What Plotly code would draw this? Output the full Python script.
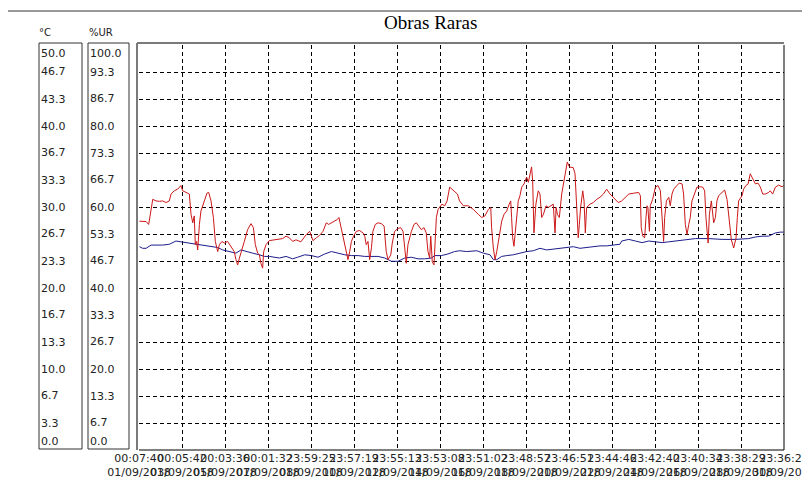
import plotly.graph_objects as go

# ---------------- data (days since 01/09/2018 00:07:40) ----------------
ur_day = [0.02,0.33,0.45,0.56,0.64,0.79,0.95,1.10,1.26,1.41,1.49,1.64,1.80,1.95,2.03,2.19,2.34,2.42,2.50,2.57,2.62,2.68,2.73,2.81,2.88,3.04,3.16,3.24,3.35,3.46,3.55,3.66,3.74,3.86,3.97,4.12,4.28,4.43,4.51,4.59,4.67,4.79,4.90,5.05,5.21,5.32,5.41,5.52,5.60,5.67,5.75,5.80,5.91,6.06,6.37,6.68,6.84,6.99,7.15,7.30,7.53,
          7.78,7.94,8.02,8.09,8.25,8.40,8.56,8.71,8.82,8.95,9.10,9.22,9.30,9.38,9.49,9.57,9.64,9.72,9.80,9.88,9.98,10.11,10.26,10.42,10.50,10.57,10.65,10.73,10.81,10.88,10.99,11.12,11.27,11.40,11.50,11.58,11.71,11.78,11.89,12.05,12.17,12.28,12.36,12.43,12.51,12.67,12.79,12.90,13.01,13.13,13.26,13.36,13.44,13.52,13.57,13.64,13.72,13.78,13.83,13.91,13.98,14.09,14.22,14.33,14.45,14.56,14.68,14.81,14.91,
          15.09,15.32,15.55,15.78,15.94,16.09,16.25,16.36,16.40,16.48,16.56,16.64,16.71,16.79,16.87,16.98,17.10,17.22,17.29,17.33,17.38,17.44,17.49,17.57,17.64,17.72,17.80,17.91,18.03,18.11,18.19,18.26,18.31,18.34,18.37,18.46,18.57,18.65,18.73,18.81,18.93,19.04,19.15,19.27,19.35,19.40,19.46,19.55,19.66,19.74,19.81,19.86,19.92,20.02,20.20,20.28,20.36,20.43,20.48,20.54,20.64,20.70,20.76,20.82,20.98,21.13,21.29,21.44,21.60,21.75,21.91,22.06,22.29,22.45,
          22.62,22.78,23.01,23.24,23.32,23.36,23.43,23.52,23.58,23.63,23.67,23.74,23.78,23.89,24.02,24.14,24.25,24.33,24.40,24.45,24.53,24.64,24.71,24.79,24.87,25.02,25.13,25.26,25.33,25.41,25.49,25.57,25.64,25.72,25.85,25.95,26.11,26.22,26.31,26.37,26.47,26.53,26.62,26.73,26.81,26.88,26.96,27.12,27.24,27.35,27.43,27.55,27.66,27.77,27.83,27.89,28.05,28.12,28.23,28.33,28.43,28.54,28.67,28.79,28.90,29.01,29.13,29.29,29.36,29.47,29.60,29.75,29.91,29.98]
ur_val = [56.5,56.4,55.7,59.9,61.9,61.5,61.4,61.5,61.1,61.5,63.2,64.0,64.4,65.3,64.0,63.6,63.2,58.2,56.1,57.8,50.7,51.5,49.4,55.7,59.0,61.5,63.4,63.6,61.5,57.4,51.5,49.0,50.7,51.5,51.1,51.5,50.3,49.0,47.0,45.7,47.4,49.9,51.5,54.4,55.9,54.9,50.7,48.6,48.2,46.1,44.9,49.0,50.7,51.7,51.9,52.2,52.8,52.4,51.5,51.9,51.4,
          53.2,54.0,52.4,51.7,52.4,53.0,54.0,56.1,55.7,56.1,56.7,56.9,57.4,55.3,53.2,51.1,49.0,47.0,49.0,51.5,52.8,54.0,54.2,53.6,52.8,50.7,51.5,47.0,49.9,54.0,55.7,56.1,55.9,55.3,49.0,47.0,48.2,51.1,54.0,54.7,54.9,54.0,49.9,46.1,50.7,54.0,55.7,56.1,55.3,54.4,54.9,53.6,49.0,47.4,52.8,46.5,45.7,53.2,57.4,59.4,59.9,60.7,60.3,61.5,64.9,64.4,64.0,63.2,61.5,
          60.3,60.3,59.4,58.2,57.4,57.8,59.4,59.9,54.9,49.9,47.0,49.0,51.5,54.0,56.5,58.2,59.0,60.7,61.5,57.4,52.4,50.3,53.2,59.4,61.5,62.8,64.9,65.7,67.4,66.1,68.2,69.9,66.5,57.4,53.6,60.7,64.0,63.2,57.4,58.2,60.3,59.9,60.3,60.7,53.6,59.9,58.2,57.4,63.2,65.7,68.2,70.3,71.1,69.9,69.7,68.2,59.0,52.4,55.7,59.9,64.0,61.5,53.6,59.9,60.7,61.1,61.9,62.4,63.2,64.4,63.2,62.4,61.1,61.5,
          62.4,63.2,63.4,63.6,62.8,54.9,52.8,52.4,57.4,60.3,59.9,54.0,60.3,61.9,64.9,65.3,64.0,57.4,51.5,57.4,61.5,62.4,60.3,63.2,64.4,65.3,65.9,65.7,63.2,55.7,53.2,55.7,57.4,61.5,63.6,64.9,65.0,64.9,64.0,57.4,51.1,58.2,61.5,56.1,57.4,61.5,62.8,63.6,64.2,61.9,57.4,51.9,49.9,52.4,57.4,61.5,62.8,64.4,65.3,65.7,68.2,66.9,65.7,65.9,64.9,63.2,63.2,63.6,64.0,63.2,64.9,65.4,65.0,65.3]

t_day = [0.02,0.17,0.33,0.56,0.79,1.10,1.41,1.72,1.95,2.19,2.50,2.81,3.12,3.43,3.66,3.89,4.20,4.51,4.74,4.98,5.29,5.60,5.83,6.06,6.29,6.53,6.84,7.15,7.38,
         7.71,8.02,8.33,8.64,8.95,9.26,9.57,9.88,10.19,10.50,10.81,11.12,11.43,11.74,12.05,12.36,12.67,12.98,13.29,13.60,13.75,14.06,14.37,14.68,14.91,
         15.24,15.71,16.02,16.33,16.48,16.64,16.87,17.10,17.41,17.72,18.03,18.34,18.65,18.96,19.27,19.58,19.89,20.20,20.51,20.82,21.13,21.44,21.75,22.06,22.37,22.45,
         22.78,23.09,23.40,23.71,24.02,24.33,24.64,24.95,25.26,25.57,25.88,26.50,27.12,27.74,28.36,28.67,28.98,29.29,29.60,29.83,29.98]
t_val = [25.1,24.9,24.9,25.3,25.3,25.3,25.4,25.8,25.7,25.6,25.4,25.3,25.2,25.1,25.0,24.7,24.5,24.3,24.7,24.5,24.3,24.1,23.9,23.9,23.8,23.7,23.9,23.6,23.8,
         24.1,24.0,23.8,24.2,24.5,24.3,24.1,24.0,24.0,23.9,23.9,23.9,23.7,23.3,23.3,23.7,23.8,23.6,23.6,23.7,24.0,24.0,24.2,24.5,24.6,
         24.5,24.6,24.3,24.1,23.5,23.5,23.9,24.0,24.1,24.3,24.5,24.6,24.9,24.7,24.8,24.9,25.0,25.1,24.9,25.0,25.1,25.2,25.2,25.3,25.4,25.8,
         26.0,25.8,25.6,25.8,25.7,25.6,25.7,25.8,25.9,26.0,26.1,26.1,26.0,26.0,26.1,26.3,26.4,26.4,26.8,26.9,26.9]

tick_days = [0, 2, 4, 6, 8, 10, 12, 14, 16, 18, 20, 22, 24, 26, 28, 30]
tick_times = ["00:07:40", "00:05:42", "00:03:36", "00:01:32", "23:59:25", "23:57:19", "23:55:13", "23:53:08",
              "23:51:02", "23:48:57", "23:46:51", "23:44:46", "23:42:40", "23:40:34", "23:38:29", "23:36:23"]
tick_dates = ["01/09/2018", "03/09/2018", "05/09/2018", "07/09/2018", "08/09/2018", "10/09/2018", "12/09/2018", "14/09/2018",
              "16/09/2018", "18/09/2018", "20/09/2018", "22/09/2018", "24/09/2018", "26/09/2018", "28/09/2018", "30/09/2018"]

temp_ticks = [0.0, 3.3, 6.7, 10.0, 13.3, 16.7, 20.0, 23.3, 26.7, 30.0, 33.3, 36.7, 40.0, 43.3, 46.7, 50.0]
ur_ticks = [0.0, 6.7, 13.3, 20.0, 26.7, 33.3, 40.0, 46.7, 53.3, 60.0, 66.7, 73.3, 80.0, 86.7, 93.3, 100.0]

title = "Obras Raras"

# ---------------- layout geometry (screen pixels; page body adds an 8px offset) ----------------
SW, SH = 810, 477          # browser window
OFF = 8                    # default body margin of the html page
L, R, T, B = 139, 784, 45, 450
PW, PH = R - L, B - T


def px(x):
    return (x - L) / PW


def py(y):
    return (B - y) / PH


FONT = "DejaVu Sans"
TXT = "#222222"

fig = go.Figure()
fig.add_trace(go.Scatter(x=t_day, y=t_val, mode="lines", yaxis="y",
                         line=dict(color="#1c1c8c", width=1), showlegend=False, hoverinfo="skip"))
fig.add_trace(go.Scatter(x=ur_day, y=ur_val, mode="lines", yaxis="y2",
                         line=dict(color="#cc1818", width=1), showlegend=False, hoverinfo="skip"))

grid_step = 50 / 15
fig.update_layout(
    width=SW - OFF, height=SH - OFF,
    margin=dict(l=L - OFF, r=SW - R, t=T - OFF, b=SH - B, pad=0),
    paper_bgcolor="white", plot_bgcolor="white",
    xaxis=dict(range=[0, 30], tickmode="array", tickvals=tick_days,
               ticktext=[f"{a}<br>{b}" for a, b in zip(tick_times, tick_dates)],
               tickangle=0, ticks="", showline=False, zeroline=False,
               showgrid=True, gridcolor="black", gridwidth=1, griddash="4px,3px",
               tickfont=dict(family=FONT, size=11, color=TXT),
               ticklabeloverflow="allow", automargin=False),
    yaxis=dict(range=[0, 50], tickmode="array", tickvals=[i * grid_step for i in range(16)],
               showticklabels=False, ticks="", showline=False, zeroline=False,
               showgrid=True, gridcolor="black", gridwidth=1, griddash="4px,3px", automargin=False),
    yaxis2=dict(range=[0, 100], overlaying="y", showticklabels=False, showgrid=False,
                zeroline=False, showline=False, ticks="", automargin=False),
    showlegend=False,
)

shapes = []
# outer frame (top and left visible)
shapes.append(dict(type="line", xref="paper", yref="paper", x0=px(7), x1=px(830), y0=py(11), y1=py(11),
                   line=dict(color="#333333", width=1)))
shapes.append(dict(type="line", xref="paper", yref="paper", x0=px(7), x1=px(7), y0=py(11), y1=py(500),
                   line=dict(color="#333333", width=1)))
# plot frame
shapes.append(dict(type="line", xref="paper", yref="paper", x0=0, x1=1, y0=0, y1=0, line=dict(color="black", width=1)))
shapes.append(dict(type="line", xref="paper", yref="paper", x0=1, x1=1, y0=0, y1=1, line=dict(color="black", width=1)))
shapes.append(dict(type="line", xref="paper", yref="paper", x0=px(137), x1=px(137), y0=0, y1=py(43),
                   line=dict(color="#7a7a7a", width=2)))
shapes.append(dict(type="line", xref="paper", yref="paper", x0=px(137), x1=1, y0=py(43), y1=py(43),
                   line=dict(color="#7a7a7a", width=2)))
# scale boxes
for x0, x1 in [(39, 82), (88, 129)]:
    shapes.append(dict(type="rect", xref="paper", yref="paper", x0=px(x0), x1=px(x1), y0=py(449), y1=py(43),
                       line=dict(color="#333333", width=1), fillcolor="rgba(0,0,0,0)"))

annotations = []
for tv, uv in zip(temp_ticks, ur_ticks):
    if tv == 50.0:
        anchor = "top"
    elif tv == 0.0:
        anchor = "bottom"
    else:
        anchor = "middle"
    annotations.append(dict(x=px(39), xref="paper", y=tv, yref="y", yanchor=anchor, xanchor="left",
                            text=f"{tv:.1f}", showarrow=False, font=dict(family=FONT, size=11, color=TXT)))
    annotations.append(dict(x=px(88), xref="paper", y=uv, yref="y2", yanchor=anchor, xanchor="left",
                            text=f"{uv:.1f}", showarrow=False, font=dict(family=FONT, size=11, color=TXT)))
annotations.append(dict(x=px(37), xref="paper", y=py(33), yref="paper", xanchor="left", yanchor="middle",
                        text="°C", showarrow=False, font=dict(family=FONT, size=10, color=TXT)))
annotations.append(dict(x=px(87), xref="paper", y=py(33), yref="paper", xanchor="left", yanchor="middle",
                        text="%UR", showarrow=False, font=dict(family=FONT, size=10, color=TXT)))
annotations.append(dict(x=px(430), xref="paper", y=py(22), yref="paper", xanchor="center", yanchor="middle",
                        text=title, showarrow=False, font=dict(family="Liberation Serif", size=19, color="black")))

fig.update_layout(shapes=shapes, annotations=annotations)
fig.write_html("out.html")
